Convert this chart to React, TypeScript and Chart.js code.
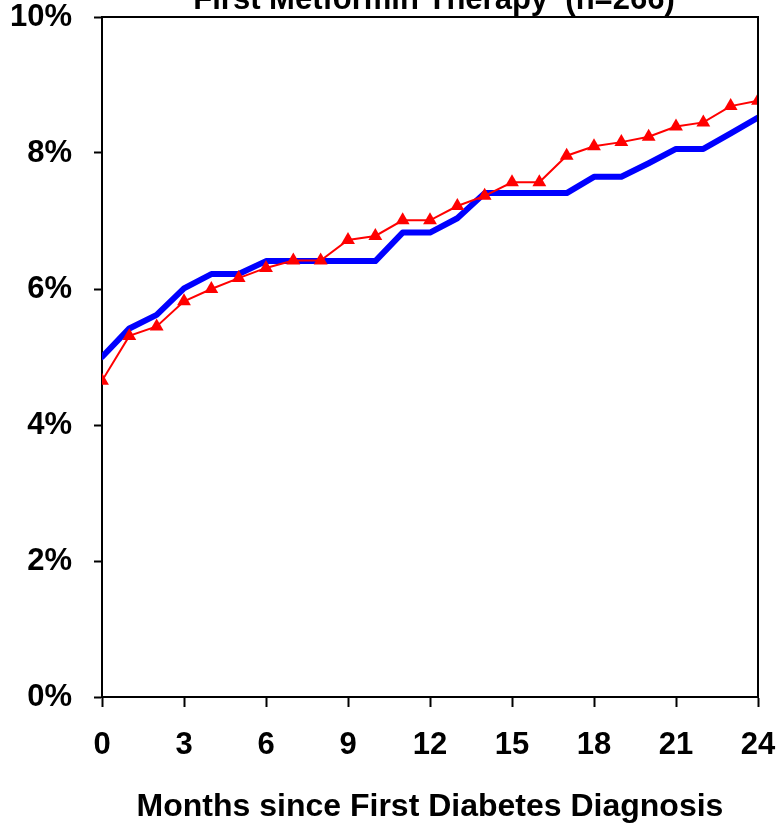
import React, { useEffect, useRef } from 'react';
import { Chart, registerables } from 'chart.js';

Chart.register(...registerables);

const months = [0, 1, 2, 3, 4, 5, 6, 7, 8, 9, 10, 11, 12, 13, 14, 15, 16, 17, 18, 19, 20, 21, 22, 23, 24];
const blueValues = [5.0, 5.42, 5.62, 6.01, 6.22, 6.22, 6.41, 6.41, 6.41, 6.41, 6.41, 6.83, 6.83, 7.04, 7.41, 7.41, 7.41, 7.41, 7.65, 7.65, 7.85, 8.06, 8.06, 8.29, 8.52];
const redValues = [4.65, 5.31, 5.45, 5.82, 6.0, 6.16, 6.31, 6.42, 6.42, 6.72, 6.78, 7.01, 7.01, 7.22, 7.37, 7.57, 7.57, 7.96, 8.1, 8.16, 8.24, 8.39, 8.45, 8.69, 8.77];
const xTickValues = [0, 3, 6, 9, 12, 15, 18, 21, 24];
const yTickValues = [0, 2, 4, 6, 8, 10];
const titleText = 'First Metformin Therapy  (n=266)';
const xAxisTitle = 'Months since First Diabetes Diagnosis';

const FONT = "'Liberation Sans', Arial, sans-serif";

const framePlugin = {
  id: 'frameAndTitle',
  afterDraw(chart: any) {
    const { ctx, chartArea } = chart;
    ctx.save();
    ctx.strokeStyle = '#000';
    ctx.lineWidth = 2;
    ctx.beginPath();
    ctx.moveTo(chartArea.left, chartArea.top);
    ctx.lineTo(chartArea.right, chartArea.top);
    ctx.lineTo(chartArea.right, chartArea.bottom);
    ctx.stroke();
    ctx.fillStyle = '#000';
    ctx.font = `bold 31px ${FONT}`;
    ctx.textAlign = 'center';
    ctx.textBaseline = 'alphabetic';
    ctx.fillText(titleText, (chartArea.left + chartArea.right) / 2 + 4, 9);
    ctx.restore();
  },
};

export default function App() {
  const canvasRef = useRef<HTMLCanvasElement | null>(null);

  useEffect(() => {
    if (!canvasRef.current) return;
    const chart = new Chart(canvasRef.current, {
      type: 'line',
      data: {
        datasets: [
          {
            label: 'Red',
            data: months.map((m, i) => ({ x: m, y: redValues[i] })),
            borderColor: '#FF0000',
            backgroundColor: '#FF0000',
            borderWidth: 2,
            pointStyle: 'triangle',
            pointRadius: 8,
            pointBorderWidth: 0,
            pointBackgroundColor: '#FF0000',
            tension: 0,
          },
          {
            label: 'Blue',
            data: months.map((m, i) => ({ x: m, y: blueValues[i] })),
            borderColor: '#0000FF',
            backgroundColor: '#0000FF',
            borderWidth: 6,
            pointRadius: 0,
            tension: 0,
            borderJoinStyle: 'round',
            borderCapStyle: 'round',
          },
        ],
      },
      options: {
        animation: false,
        responsive: false,
        maintainAspectRatio: false,
        layout: { padding: { left: 0, right: 18, top: 17, bottom: 0 } },
        plugins: {
          legend: { display: false },
          tooltip: { enabled: false },
        },
        scales: {
          x: {
            type: 'linear',
            min: 0,
            max: 24,
            afterFit: (s: any) => {
              s.height = 127;
              s.paddingLeft = 0;
              s.paddingRight = 0;
            },
            afterBuildTicks: (s: any) => {
              s.ticks = xTickValues.map((v) => ({ value: v }));
            },
            ticks: {
              color: '#000',
              font: { family: FONT, size: 31, weight: 'bold' },
              padding: 20,
              maxRotation: 0,
              autoSkip: false,
            },
            grid: {
              drawOnChartArea: false,
              drawTicks: true,
              tickLength: 10,
              tickWidth: 2,
              color: '#000',
            },
            border: { display: true, color: '#000', width: 2 },
            title: {
              display: true,
              text: xAxisTitle,
              color: '#000',
              font: { family: FONT, size: 32, weight: 'bold' },
              padding: { top: 0, bottom: -2 },
            },
          },
          y: {
            type: 'linear',
            min: 0,
            max: 10,
            afterFit: (s: any) => {
              s.width = 102;
              s.paddingTop = 0;
              s.paddingBottom = 0;
            },
            afterBuildTicks: (s: any) => {
              s.ticks = yTickValues.map((v) => ({ value: v }));
            },
            ticks: {
              color: '#000',
              font: { family: FONT, size: 31, weight: 'bold', lineHeight: 1 },
              padding: 22,
              callback: (v: any) => `${v}%`,
            },
            grid: {
              drawOnChartArea: false,
              drawTicks: true,
              tickLength: 8,
              tickWidth: 2,
              color: '#000',
            },
            border: { display: true, color: '#000', width: 2 },
          },
        },
      },
      plugins: [framePlugin],
    });
    return () => chart.destroy();
  }, []);

  return (
    <div style={{ position: 'absolute', left: 0, top: 0, width: 776, height: 824, background: '#fff' }}>
      <canvas ref={canvasRef} width={776} height={824} style={{ width: 776, height: 824, display: 'block' }} />
    </div>
  );
}
